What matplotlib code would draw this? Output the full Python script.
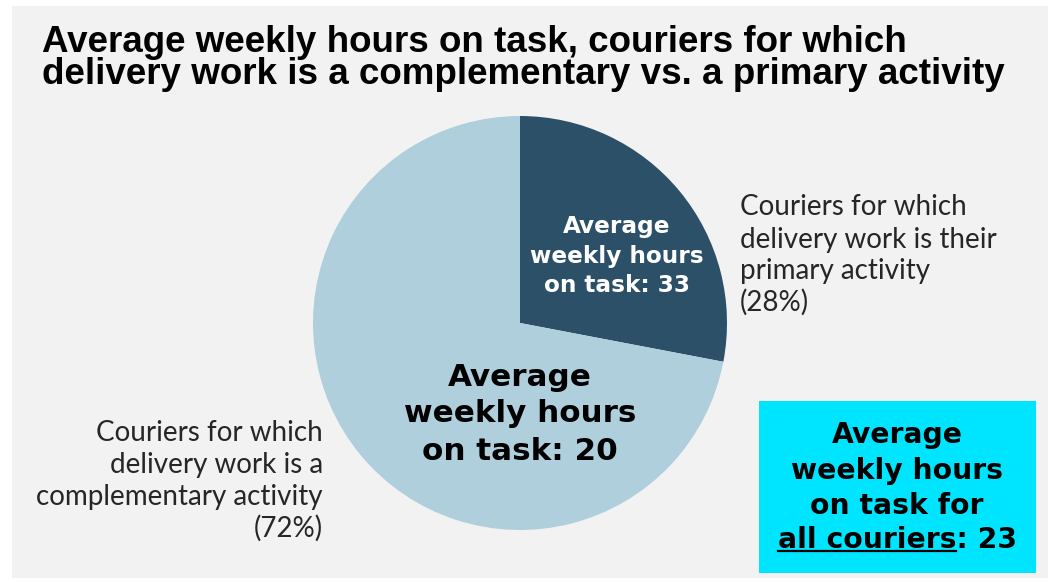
import matplotlib.pyplot as plt
from matplotlib.patches import Rectangle
from matplotlib.lines import Line2D

# data
groups = ['primary', 'complementary']
shares = [28, 72]
hours = [33, 20]
all_hours = 23
colors = ['#2c5068', '#aecfdb']

W, H = 1061, 582


def px(x, y):
    # pixel position (from top-left) -> figure fraction
    return x / W, 1 - y / H


def lines(x, ys, texts, **kw):
    out = []
    for y, t in zip(ys, texts):
        out.append(fig.text(*px(x, y), t, va='center', **kw))
    return out


fig = plt.figure(figsize=(W / 100, H / 100), dpi=100)
fig.patch.set_facecolor('white')
bg = fig.add_axes([12 / W, 4 / H, 1036 / W, 572 / H], zorder=-5)
bg.set_facecolor('#f2f2f2')
bg.set_xticks([])
bg.set_yticks([])
for s in bg.spines.values():
    s.set_visible(False)

bold = dict(fontweight='bold', family='DejaVu Sans')

# title
lines(42, [42, 75], ['Average weekly hours on task, couriers for which',
                     'delivery work is a complementary vs. a primary activity'],
      ha='left', fontsize=26.5, fontweight='bold', family='Liberation Sans', color='black')

# pie
cx, cy, r = 520, 323, 207
ax = fig.add_axes([(cx - r) / W, (H - cy - r) / H, 2 * r / W, 2 * r / H])
ax.pie(shares, colors=colors, startangle=90, counterclock=False, radius=1,
       wedgeprops=dict(linewidth=0))
ax.set_xlim(-1, 1)
ax.set_ylim(-1, 1)
ax.set_aspect('equal')
ax.axis('off')

# labels inside slices
lines(617, [227, 256, 285], ['Average', 'weekly hours', f'on task: {hours[0]}'],
      ha='center', fontsize=16.7, color='white', **bold)
lines(520, [377, 414, 452], ['Average', 'weekly hours', f'on task: {hours[1]}'],
      ha='center', fontsize=22.3, color='black', **bold)

# outside labels
lab = dict(fontsize=20, family='Lato', color='#262626')
lines(740, [207, 240, 271, 302], ['Couriers for which', 'delivery work is their',
                                  'primary activity', f'({shares[0]}%)'], ha='left', **lab)
lines(323, [433, 465, 497, 528], ['Couriers for which', 'delivery work is a',
                                  'complementary activity', f'({shares[1]}%)'], ha='right', **lab)

# overall box
fig.patches.append(Rectangle(px(759, 573), 277 / W, 172 / H, transform=fig.transFigure,
                             facecolor='#00e5ff', edgecolor='none', zorder=1))
box_fs = 20.3
box = lines(897, [435, 471, 506, 540], ['Average', 'weekly hours', 'on task for',
                                        f'all couriers: {all_hours}'],
            ha='center', fontsize=box_fs, color='black', **bold)
last = box[-1]

# underline "all couriers"
fig.canvas.draw()
rend = fig.canvas.get_renderer()
bb = last.get_window_extent(rend)
tmp = fig.text(0, 0, 'all couriers', fontsize=box_fs, **bold)
wb = tmp.get_window_extent(rend)
tmp.remove()
y_line = bb.y0 + 3
fig.lines.append(Line2D([bb.x0, bb.x0 + wb.width], [y_line, y_line], transform=None,
                        color='black', linewidth=1.6))

fig.savefig('out.png', dpi=100, facecolor=fig.get_facecolor())
